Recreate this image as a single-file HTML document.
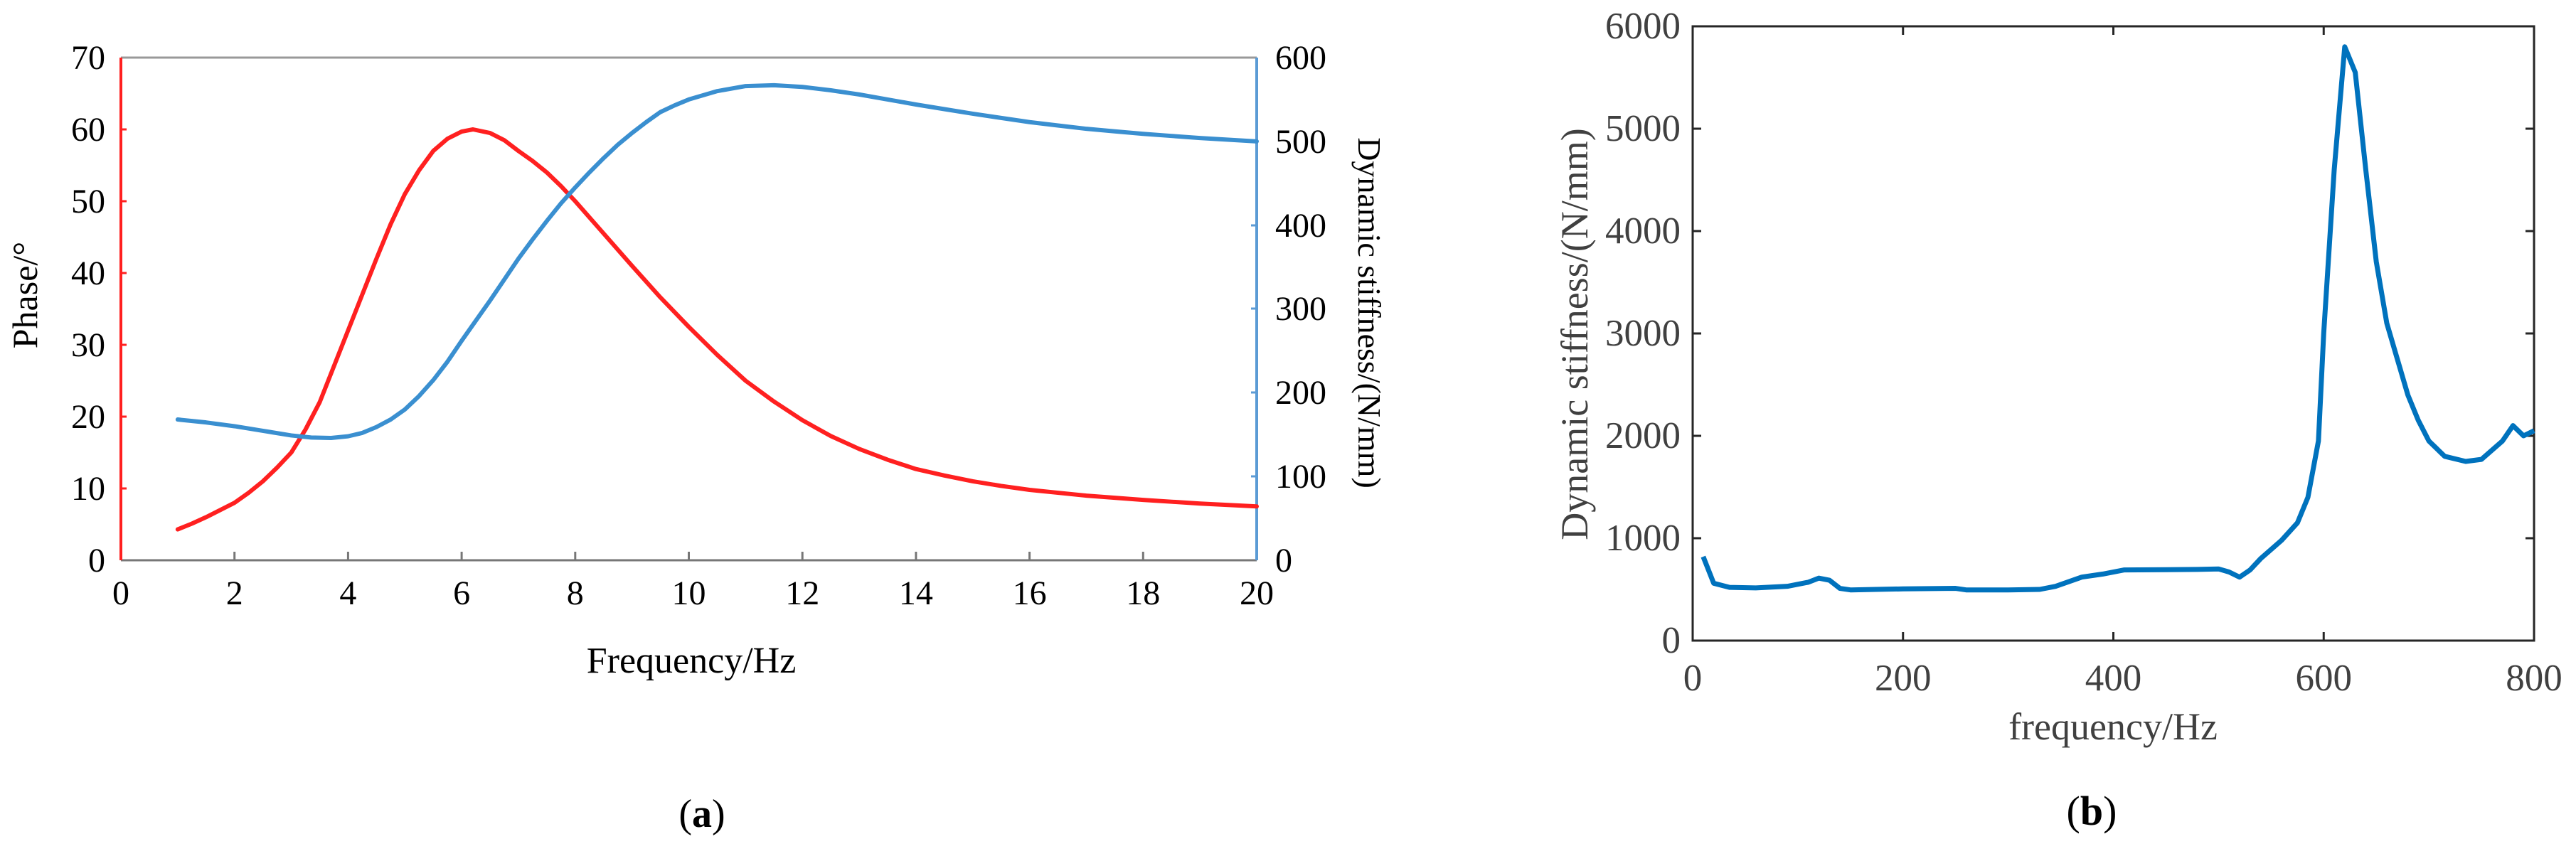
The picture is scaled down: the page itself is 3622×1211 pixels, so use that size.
<!DOCTYPE html>
<html><head><meta charset="utf-8"><style>
html,body{margin:0;padding:0;background:#fff;}
svg{display:block;}
text{font-family:"Liberation Serif",serif;}
</style></head><body>
<svg width="3622" height="1211" viewBox="0 0 3622 1211" xmlns="http://www.w3.org/2000/svg">
<rect width="3622" height="1211" fill="#fff"/>
<!-- Panel (a) -->
<line x1="170" y1="81" x2="1767" y2="81" stroke="#999" stroke-width="3"/>
<line x1="170" y1="788" x2="1767" y2="788" stroke="#777" stroke-width="3"/>
<line x1="170" y1="81" x2="170" y2="788" stroke="#ff2020" stroke-width="4"/>
<line x1="1767" y1="81" x2="1767" y2="788" stroke="#5b9bd5" stroke-width="4"/>
<g stroke="#777" stroke-width="3">
<line x1="329.7" y1="788" x2="329.7" y2="776"/><line x1="489.4" y1="788" x2="489.4" y2="776"/><line x1="649.1" y1="788" x2="649.1" y2="776"/><line x1="808.8" y1="788" x2="808.8" y2="776"/><line x1="968.5" y1="788" x2="968.5" y2="776"/><line x1="1128.2" y1="788" x2="1128.2" y2="776"/><line x1="1287.9" y1="788" x2="1287.9" y2="776"/><line x1="1447.6" y1="788" x2="1447.6" y2="776"/><line x1="1607.3" y1="788" x2="1607.3" y2="776"/>
</g>
<g stroke="#ff2020" stroke-width="3">
<line x1="170" y1="687" x2="178" y2="687"/><line x1="170" y1="586" x2="178" y2="586"/><line x1="170" y1="485" x2="178" y2="485"/><line x1="170" y1="384" x2="178" y2="384"/><line x1="170" y1="283" x2="178" y2="283"/><line x1="170" y1="182" x2="178" y2="182"/>
</g>
<g stroke="#5b9bd5" stroke-width="3">
<line x1="1759" y1="670" x2="1767" y2="670"/><line x1="1759" y1="552" x2="1767" y2="552"/><line x1="1759" y1="434" x2="1767" y2="434"/><line x1="1759" y1="317" x2="1767" y2="317"/><line x1="1759" y1="199" x2="1767" y2="199"/>
</g>
<g font-size="48" text-anchor="end" fill="#000">
<text x="148" y="804">0</text><text x="148" y="703">10</text><text x="148" y="602">20</text><text x="148" y="501">30</text><text x="148" y="400">40</text><text x="148" y="299">50</text><text x="148" y="198">60</text><text x="148" y="97">70</text>
</g>
<g font-size="48" text-anchor="start" fill="#000">
<text x="1793" y="804">0</text><text x="1793" y="686">100</text><text x="1793" y="568">200</text><text x="1793" y="450">300</text><text x="1793" y="333">400</text><text x="1793" y="215">500</text><text x="1793" y="97">600</text>
</g>
<g font-size="48" text-anchor="middle" fill="#000">
<text x="170" y="850">0</text><text x="329.7" y="850">2</text><text x="489.4" y="850">4</text><text x="649.1" y="850">6</text><text x="808.8" y="850">8</text><text x="968.5" y="850">10</text><text x="1128.2" y="850">12</text><text x="1287.9" y="850">14</text><text x="1447.6" y="850">16</text><text x="1607.3" y="850">18</text><text x="1767" y="850">20</text>
</g>
<text x="972" y="946" font-size="52" text-anchor="middle">Frequency/Hz</text>
<text transform="translate(52,415) rotate(-90)" font-size="50" text-anchor="middle">Phase/°</text>
<text transform="translate(1910,440) rotate(90)" font-size="46" text-anchor="middle">Dynamic stiffness/(N/mm)</text>
<text x="987" y="1163" font-size="56" text-anchor="middle">(<tspan font-weight="bold">a</tspan>)</text>
<g transform="matrix(79.85 0 0 -10.1 170 788)">
<polyline vector-effect="non-scaling-stroke" fill="none" stroke="#ff2020" stroke-width="6" stroke-linejoin="round" stroke-linecap="round"
points="1,4.3 1.25,5.1 1.5,6 1.75,7 2,8 2.25,9.4 2.5,11 2.75,12.9 3,15 3.25,18.2 3.5,22 3.75,27 4,32 4.25,37 4.5,42 4.75,46.8 5,51 5.25,54.3 5.5,57 5.75,58.7 6,59.7 6.2,60 6.5,59.5 6.75,58.5 7,57 7.25,55.6 7.5,54 7.75,52.1 8,50 8.5,45.5 9,41 9.5,36.6 10,32.5 10.5,28.6 11,25 11.5,22.1 12,19.5 12.5,17.3 13,15.5 13.5,14 14,12.7 14.5,11.8 15,11 15.5,10.35 16,9.8 16.5,9.4 17,9 17.5,8.7 18,8.4 18.5,8.15 19,7.9 19.5,7.7 20,7.5"/>
</g>
<g transform="matrix(79.85 0 0 -1.1783 170 788)">
<polyline vector-effect="non-scaling-stroke" fill="none" stroke="#3a8fd0" stroke-width="6" stroke-linejoin="round" stroke-linecap="round"
points="1,168 1.5,164.5 2,160 2.5,154.5 3,149 3.35,146.5 3.7,146 4,148 4.25,152 4.5,159 4.75,168 5,180 5.25,196 5.5,215 5.75,237 6,262 6.25,286 6.5,310 6.75,335 7,360 7.25,383 7.5,405 7.75,426 8,445 8.25,463 8.5,480 8.75,496 9,510 9.25,523 9.5,535 9.75,543 10,550 10.5,560 11,566 11.5,567 12,565 12.5,561 13,556 13.5,550 14,544 14.5,538.5 15,533 15.5,528 16,523 16.5,519 17,515 17.5,512 18,509 18.5,506.5 19,504 19.5,502 20,500"/>
</g>
<!-- Panel (b) -->
<rect x="2380" y="37" width="1183" height="864" fill="none" stroke="#262626" stroke-width="3"/>
<g stroke="#262626" stroke-width="3">
<line x1="2675.75" y1="901" x2="2675.75" y2="889"/><line x1="2971.5" y1="901" x2="2971.5" y2="889"/><line x1="3267.25" y1="901" x2="3267.25" y2="889"/>
<line x1="2675.75" y1="37" x2="2675.75" y2="49"/><line x1="2971.5" y1="37" x2="2971.5" y2="49"/><line x1="3267.25" y1="37" x2="3267.25" y2="49"/>
<line x1="2380" y1="757" x2="2392" y2="757"/><line x1="2380" y1="613" x2="2392" y2="613"/><line x1="2380" y1="469" x2="2392" y2="469"/><line x1="2380" y1="325" x2="2392" y2="325"/><line x1="2380" y1="181" x2="2392" y2="181"/>
<line x1="3563" y1="757" x2="3551" y2="757"/><line x1="3563" y1="613" x2="3551" y2="613"/><line x1="3563" y1="469" x2="3551" y2="469"/><line x1="3563" y1="325" x2="3551" y2="325"/><line x1="3563" y1="181" x2="3551" y2="181"/>
</g>
<g font-size="53" text-anchor="end" fill="#404040">
<text x="2363" y="918">0</text><text x="2363" y="774">1000</text><text x="2363" y="630">2000</text><text x="2363" y="486">3000</text><text x="2363" y="342">4000</text><text x="2363" y="198">5000</text><text x="2363" y="54">6000</text>
</g>
<g font-size="53" text-anchor="middle" fill="#404040">
<text x="2380" y="971">0</text><text x="2675.75" y="971">200</text><text x="2971.5" y="971">400</text><text x="3267.25" y="971">600</text><text x="3563" y="971">800</text>
</g>
<text x="2971" y="1040" font-size="54" text-anchor="middle" fill="#404040">frequency/Hz</text>
<text transform="translate(2232,470) rotate(-90)" font-size="54" text-anchor="middle" fill="#404040">Dynamic stiffness/(N/mm)</text>
<text x="2941" y="1160" font-size="58" text-anchor="middle">(<tspan font-weight="bold">b</tspan>)</text>
<g transform="matrix(1.47875 0 0 -0.144 2380 901)">
<polyline vector-effect="non-scaling-stroke" fill="none" stroke="#0072bd" stroke-width="7" stroke-linejoin="round"
points="10,820 20,560 35,520 60,515 90,530 110,570 120,610 130,590 140,510 150,495 200,505 250,510 260,495 300,495 330,500 345,530 370,620 390,650 410,690 480,695 500,700 510,670 520,620 530,690 540,800 560,980 575,1150 585,1400 595,1950 600,3000 610,4600 620,5800 630,5550 640,4600 650,3700 660,3100 670,2750 680,2400 690,2150 700,1950 715,1800 735,1750 750,1770 770,1950 780,2100 790,2000 800,2050"/>
</g>
</svg>
</body></html>
